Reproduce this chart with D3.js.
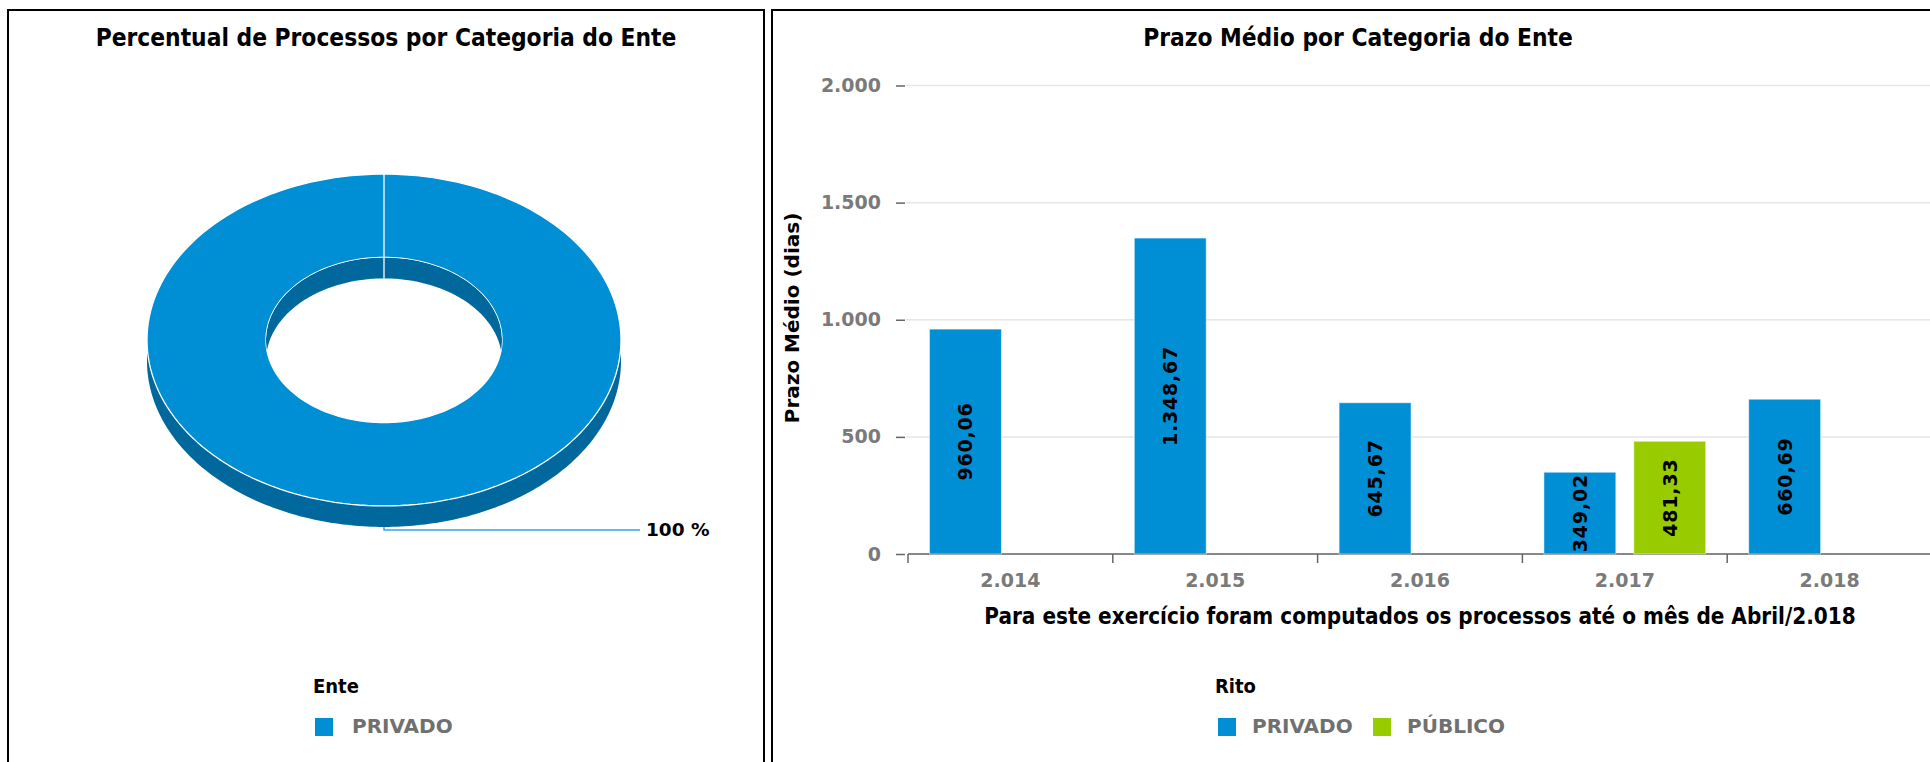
<!DOCTYPE html>
<html><head><meta charset="utf-8">
<script src="https://cdn.jsdelivr.net/npm/d3@7"></script>
<style>html,body{margin:0;padding:0;background:#fff;overflow:hidden}</style>
</head><body>
<svg id="c" width="1930" height="762"></svg>
<script>
// ---------- DATA ----------
const pieCategories = ["PRIVADO"];
const pieValues = [100];
const years = [2014, 2015, 2016, 2017, 2018];
const seriesNames = ["PRIVADO", "PÚBLICO"];
const privadoValues = [960.06, 1348.67, 645.67, 349.02, 660.69];
const publicoValues = [null, null, null, 481.33, null];
const yTickValues = [0, 500, 1000, 1500, 2000];
const seriesColors = ["#008fd5", "#99cc00"];
const pieSideColor = "#00689d";

const leftTitle = "Percentual de Processos por Categoria do Ente";
const rightTitle = "Prazo Médio por Categoria do Ente";
const yAxisTitle = "Prazo Médio (dias)";
const xAxisTitle = "Para este exercício foram computados os processos até o mês de Abril/2.018";
const leftLegendTitle = "Ente";
const rightLegendTitle = "Rito";

// ---------- SETUP ----------
const loc = d3.formatLocale({decimal: ",", thousands: ".", grouping: [3], currency: ["R$", ""]});
const fmtInt = loc.format(",");
const fmtVal = loc.format(",.2f");

const svg = d3.select("#c");
const condensed = "'DejaVu Sans Condensed','DejaVu Sans',sans-serif";
const wide = "'DejaVu Sans',Verdana,sans-serif";

// panels
svg.append("rect").attr("x", 8).attr("y", 10).attr("width", 756).attr("height", 800)
  .attr("fill", "none").attr("stroke", "#000").attr("stroke-width", 2);
svg.append("rect").attr("x", 772).attr("y", 10).attr("width", 1200).attr("height", 800)
  .attr("fill", "none").attr("stroke", "#000").attr("stroke-width", 2);

// titles
svg.append("text").attr("x", 386).attr("y", 46).attr("text-anchor", "middle")
  .attr("font-family", condensed).attr("font-stretch", "condensed").attr("font-weight", "bold")
  .attr("font-size", 24.3).attr("fill", "#000").text(leftTitle);
svg.append("text").attr("x", 1358).attr("y", 46).attr("text-anchor", "middle")
  .attr("font-family", condensed).attr("font-stretch", "condensed").attr("font-weight", "bold")
  .attr("font-size", 24.3).attr("fill", "#000").text(rightTitle);

// ---------- 3D DONUT ----------
const cx = 384, cy = 340, rOut = 237, rIn = 118, tilt = 0.70, depth = 21;
const pie = d3.pie().sort(null).startAngle(0).endAngle(2 * Math.PI);
const arcs = pie(pieValues);
function proj(a, r, dy) { return [cx + r * Math.sin(a), cy - r * Math.cos(a) * tilt + dy]; }
function arcPts(a0, a1, r, dy) {
  const n = 180;
  return d3.range(n + 1).map(i => proj(a0 + (a1 - a0) * i / n, r, dy));
}
const line = d3.line();
const g = svg.append("g");
arcs.forEach((d, i) => {
  const col = seriesColors[i];
  // outer side wall (front half)
  const s0 = Math.max(d.startAngle, Math.PI / 2), s1 = Math.min(d.endAngle, 3 * Math.PI / 2);
  if (s1 > s0) {
    const pts = arcPts(s0, s1, rOut, 0).concat(arcPts(s1, s0, rOut, depth));
    g.append("path").attr("d", line(pts) + "Z").attr("fill", pieSideColor);
  }
  // top face
  const top = arcPts(d.startAngle, d.endAngle, rOut, 0).concat(arcPts(d.endAngle, d.startAngle, rIn, 0));
  g.append("path").attr("d", line(top) + "Z").attr("fill", col)
    .attr("stroke", "#fff").attr("stroke-width", 1.3).attr("stroke-linejoin", "round");
  // inner wall (back half, visible inside hole)
  const clipId = "hole" + i;
  svg.append("clipPath").attr("id", clipId).append("ellipse")
    .attr("cx", cx).attr("cy", cy).attr("rx", rIn).attr("ry", rIn * tilt);
  const w = arcPts(-Math.PI / 2, Math.PI / 2, rIn, 0).concat(arcPts(Math.PI / 2, -Math.PI / 2, rIn, depth));
  g.append("path").attr("d", line(w) + "Z").attr("fill", pieSideColor).attr("clip-path", `url(#${clipId})`);
  // slice edge on inner wall
  const e0 = proj(d.startAngle, rIn, 0), e1 = proj(d.startAngle, rIn, depth);
  g.append("line").attr("x1", e0[0]).attr("y1", e0[1]).attr("x2", e1[0]).attr("y2", e1[1])
    .attr("stroke", "#fff").attr("stroke-width", 1.3);
  // leader + label
  const mid = (d.startAngle + d.endAngle) / 2;
  const p0 = proj(mid, rOut, depth);
  const lx = 640;
  g.append("path").attr("d", line([p0, [p0[0], p0[1] + 3], [lx, p0[1] + 3]]))
    .attr("fill", "none").attr("stroke", "#35a7e0").attr("stroke-width", 1.5);
  g.append("text").attr("x", lx + 6).attr("y", p0[1] + 3).attr("dy", "0.35em")
    .attr("font-family", wide).attr("font-weight", "bold").attr("font-size", 18.5).attr("fill", "#000")
    .text(d.data + " %");
});

// left legend
svg.append("text").attr("x", 313).attr("y", 693).attr("font-family", condensed).attr("font-stretch", "condensed")
  .attr("font-weight", "bold").attr("font-size", 20).attr("fill", "#000").text(leftLegendTitle);
pieCategories.forEach((c, i) => {
  svg.append("rect").attr("x", 315).attr("y", 718).attr("width", 18).attr("height", 18).attr("fill", seriesColors[i]);
  svg.append("text").attr("x", 352).attr("y", 733).attr("font-family", wide).attr("font-weight", "bold")
    .attr("font-size", 20).attr("fill", "#707070").text(c);
});

// ---------- BAR CHART ----------
const plotLeft = 908, plotBottom = 554, plotTop = 85.5, band = 204.8;
const y = d3.scaleLinear().domain([0, 2000]).range([plotBottom, plotTop]);
const x0 = d3.scaleBand().domain(years).range([plotLeft, plotLeft + band * years.length]).padding(0);
const x1 = d3.scaleBand().domain(seriesNames).range([x0.bandwidth() * 0.105, x0.bandwidth() * 0.895]).paddingInner(0.2);

// gridlines
svg.append("g").selectAll("line").data(yTickValues.filter(v => v > 0)).join("line")
  .attr("x1", 906).attr("x2", 1930).attr("y1", d => y(d)).attr("y2", d => y(d))
  .attr("stroke", "#e6e6e6").attr("stroke-width", 1.5);

// y axis (ticks + labels)
const yAxis = d3.axisLeft(y).tickValues(yTickValues).tickFormat(fmtInt).tickSize(9).tickPadding(15);
const yg = svg.append("g").attr("transform", "translate(905,0)").call(yAxis);
yg.select(".domain").remove();
yg.selectAll(".tick line").attr("stroke", "#666").attr("stroke-width", 1.5);
yg.selectAll(".tick text").attr("font-family", wide).attr("font-weight", "bold").attr("font-size", 19).attr("fill", "#7a7a7a");

// x axis
const xAxis = d3.axisBottom(x0).tickFormat(fmtInt).tickSize(0).tickPadding(20);
const xg = svg.append("g").attr("transform", `translate(0,${plotBottom})`).call(xAxis);
xg.select(".domain").attr("d", `M${plotLeft},0H1930`).attr("stroke", "#888").attr("stroke-width", 2);
xg.selectAll(".tick text").attr("font-family", wide).attr("font-weight", "bold").attr("font-size", 19).attr("fill", "#7a7a7a");
// boundary tick marks
xg.append("g").selectAll("line").data(years).join("line")
  .attr("x1", d => x0(d)).attr("x2", d => x0(d)).attr("y1", 0).attr("y2", 9)
  .attr("stroke", "#666").attr("stroke-width", 1.5);

// bars
const rows = years.map((yr, i) => ({year: yr, values: [privadoValues[i], publicoValues[i]]}));
const bars = svg.append("g");
rows.forEach(r => {
  r.values.forEach((v, si) => {
    if (v == null) return;
    const bx = x0(r.year) + x1(seriesNames[si]);
    const by = y(v);
    bars.append("rect").attr("x", bx).attr("y", by).attr("width", x1.bandwidth()).attr("height", plotBottom - by)
      .attr("fill", seriesColors[si]).attr("stroke", "#fff").attr("stroke-opacity", 0.5).attr("stroke-width", 1);
    const tx = bx + x1.bandwidth() / 2, ty = (by + plotBottom) / 2;
    bars.append("text").attr("transform", `translate(${tx},${ty}) rotate(-90)`)
      .attr("text-anchor", "middle").attr("dy", "0.36em")
      .attr("font-family", wide).attr("font-weight", "bold").attr("font-size", 19).attr("letter-spacing", 0.8)
      .attr("fill", "#000").text(fmtVal(v));
  });
});

// axis titles
svg.append("text").attr("transform", "translate(792,318) rotate(-90)").attr("text-anchor", "middle").attr("dy", "0.35em")
  .attr("font-family", wide).attr("font-weight", "bold").attr("font-size", 20).attr("fill", "#000").text(yAxisTitle);
svg.append("text").attr("x", 1420).attr("y", 624).attr("text-anchor", "middle")
  .attr("font-family", condensed).attr("font-stretch", "condensed").attr("font-weight", "bold")
  .attr("font-size", 22.3).attr("fill", "#000").text(xAxisTitle);

// right legend
svg.append("text").attr("x", 1215).attr("y", 693).attr("font-family", condensed).attr("font-stretch", "condensed")
  .attr("font-weight", "bold").attr("font-size", 20).attr("fill", "#000").text(rightLegendTitle);
const legendX = [1218, 1373];
seriesNames.forEach((s, i) => {
  svg.append("rect").attr("x", legendX[i]).attr("y", 718).attr("width", 18).attr("height", 18).attr("fill", seriesColors[i]);
  svg.append("text").attr("x", legendX[i] + 34).attr("y", 733).attr("font-family", wide).attr("font-weight", "bold")
    .attr("font-size", 20).attr("fill", "#707070").text(s);
});
</script>
</body></html>
